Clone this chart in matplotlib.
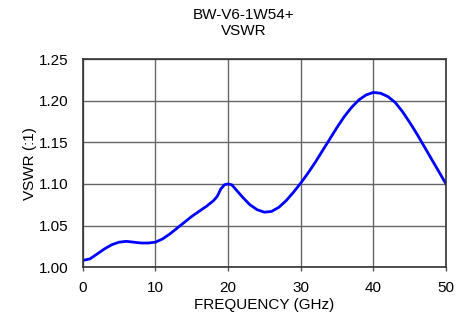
import matplotlib
matplotlib.use("Agg")
import matplotlib.pyplot as plt

plt.rcParams['font.family'] = ['Liberation Sans', 'DejaVu Sans']

freq = [0, 1, 2, 3, 4, 5, 6, 7, 8, 9, 10, 11, 12, 13, 14, 15, 16, 17, 18, 18.5,
        19, 19.5, 20, 20.5, 21, 22, 23, 24, 25, 26, 27, 28, 29, 30, 31, 32, 33,
        34, 35, 36, 37, 38, 39, 40, 41, 42, 43, 44, 45, 46, 47, 48, 49, 50]
vswr = [1.008, 1.010, 1.016, 1.022, 1.027, 1.030, 1.031, 1.030, 1.029, 1.029,
        1.030, 1.034, 1.040, 1.047, 1.054, 1.061, 1.067, 1.073, 1.080, 1.085,
        1.094, 1.099, 1.100, 1.099, 1.094, 1.084, 1.075, 1.069, 1.066, 1.067,
        1.072, 1.080, 1.090, 1.101, 1.113, 1.126, 1.140, 1.154, 1.168, 1.181,
        1.192, 1.201, 1.207, 1.210, 1.209, 1.205, 1.198, 1.187, 1.174, 1.160,
        1.145, 1.130, 1.115, 1.100]

xticks = [0, 10, 20, 30, 40, 50]
yticks = [1.00, 1.05, 1.10, 1.15, 1.20, 1.25]

fig = plt.figure(figsize=(4.68, 3.18), dpi=100)
ax = fig.add_axes([0.177, 0.160, 0.776, 0.654])

ax.plot(freq, vswr, color='#0000ff', linewidth=2.0)

ax.set_xlim(0, 50)
ax.set_ylim(1.00, 1.25)
ax.set_xticks(xticks)
ax.set_yticks(yticks)
ax.set_yticklabels([f"{v:.2f}" for v in yticks])
ax.tick_params(axis='y', length=0, labelsize=11, pad=10)
ax.tick_params(axis='x', length=3, width=1, color='#555555', labelsize=11, pad=7)
ax.grid(True, color='#666666', linewidth=1)
for s in ax.spines.values():
    s.set_color('#333333')
    s.set_linewidth(1.2)

ax.set_xlabel("FREQUENCY (GHz)", fontsize=11, labelpad=2)
ax.set_ylabel("VSWR (:1)", fontsize=11, labelpad=1.5)
fig.text(0.521, 0.975, "BW-V6-1W54+\nVSWR", ha='center', va='top', fontsize=11,
         linespacing=1.15)

fig.savefig("out.png", dpi=100)
